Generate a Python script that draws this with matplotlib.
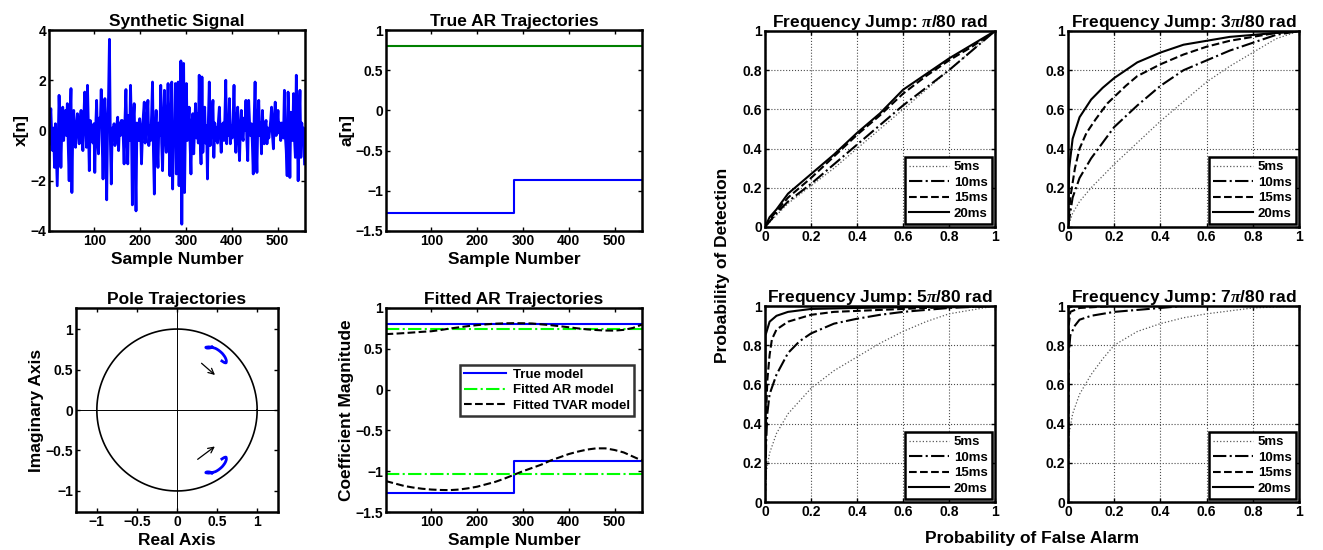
import numpy as np
import matplotlib
matplotlib.use("Agg")
import matplotlib.pyplot as plt

plt.rcParams['font.family'] = ['Liberation Sans', 'DejaVu Sans']
plt.rcParams['font.weight'] = 'bold'
plt.rcParams['axes.titleweight'] = 'bold'
plt.rcParams['axes.labelweight'] = 'bold'
plt.rcParams['mathtext.fontset'] = 'custom'
plt.rcParams['mathtext.it'] = 'Liberation Serif:italic'

# ---------------- data ----------------
signal_n = list(range(1, 560, 2))
signal_x = [
    -1.5, 0.3, 0.87, -0.2, -0.8, 0.1, -1.47, 0.27, -0.9, -2.2,
    -0.5, 1.4, 0.2, -1.47, 0.1, 0.93, -0.4, 0.3, 0.8, -0.2,
    1.07, -0.6, -2.0, 0.4, 1.67, -2.47, 0.0, 0.8, -0.3, -0.67,
    0.2, 0.67, -0.1, -0.53, 0.4, 0.8, -0.2, -0.8, 0.5, 1.53,
    0.3, -0.67, 1.8, 0.2, -1.6, 0.4, -0.3, 0.13, -0.5, 0.27,
    -1.67, 0.1, 1.2, -0.3, -0.93, 0.5, 0.2, 1.63, -0.4, -1.93,
    0.2, 1.27, -0.5, -2.76, 0.3, 1.33, 3.63, -0.4, -2.13, 0.1,
    -0.3, 0.27, -0.6, -0.4, 0.2, 0.53, -0.8, 0.3, -0.2, 0.4,
    0.4, -0.2, -1.33, 0.5, 1.63, -0.2, -1.33, 0.6, -0.4, 1.8,
    0.2, -2.96, 0.4, 1.07, -1.0, -3.2, 0.3, 0.0, -0.4, 0.47,
    0.1, -1.33, -0.2, 0.6, 1.13, -0.5, 0.0, 0.5, 1.2, -0.6,
    0.2, -0.4, 0.6, 1.93, -0.8, -2.53, 0.1, 0.8, -0.5, -1.47,
    0.3, -0.2, 1.8, -0.5, -1.6, 0.4, 1.6, -0.3, -0.87, 0.5,
    1.87, -0.4, -1.8, 0.5, 1.93, -2.33, 0.2, -0.6, 1.87, -1.73,
    0.3, 1.93, -2.2, 0.5, 2.77, -3.73, 0.6, 2.67, -2.47, 0.4,
    1.87, -0.4, 0.2, 0.93, -0.5, -1.73, 0.3, 0.67, -0.93, 0.2,
    1.07, -0.3, 0.67, -0.5, 2.2, -0.2, -1.33, 2.13, -0.87, 0.3,
    0.93, -0.5, 0.2, -1.93, 0.4, 1.93, -0.6, -0.13, 0.5, 1.2,
    -1.07, 0.3, -0.4, 0.13, -0.5, 0.4, 0.93, -0.2, -0.87, 0.0,
    0.3, -0.4, 0.5, 2.0, -0.53, 0.6, -0.2, 1.27, -0.53, 0.2,
    -0.3, 0.5, 1.8, -0.2, -0.87, 0.4, 0.93, -0.3, -1.2, 0.1,
    0.8, -0.2, -0.4, 0.5, 0.0, 1.2, -0.4, -1.2, 1.2, 0.3,
    -0.2, 0.27, -0.5, -1.73, 0.5, 1.93, -0.3, -1.67, 0.4, 1.2,
    -0.2, 0.3, -0.93, 0.8, -0.1, -0.53, 0.2, 0.4, -0.53, 0.1,
    -0.3, 0.0, 0.4, 0.93, -0.2, -0.73, 0.5, 1.13, -0.2, 0.13,
    0.8, -0.1, 0.3, -0.4, 0.3, 0.13, -0.3, 1.6, -0.2, -0.8,
    -1.8, 1.53, 0.2, -1.87, 0.73, 0.0, -0.4, 1.47, -0.3, -1.07,
    2.2, 0.3, -2.0, 0.2, 1.6, -1.07, 0.3, -0.4, 0.1, -1.33,
]

# true AR(2) coefficients (piecewise constant)
true_n = [1, 280, 280, 560]
true_a1 = [-1.27, -1.27, -0.87, -0.87]
true_a2 = [0.80, 0.80, 0.80, 0.80]

# fitted stationary AR coefficients
fit_ar_a1 = -1.03
fit_ar_a2 = 0.74

# fitted TVAR coefficients
tvar_n = list(range(0, 561, 20))
tvar_a1 = [-1.12, -1.15, -1.18, -1.20, -1.215, -1.225, -1.23, -1.232, -1.225, -1.21,
           -1.19, -1.16, -1.13, -1.09, -1.045, -1.0, -0.96, -0.92, -0.87, -0.83,
           -0.79, -0.76, -0.735, -0.72, -0.72, -0.74, -0.77, -0.82, -0.87]
tvar_a2 = [0.68, 0.685, 0.692, 0.70, 0.708, 0.715, 0.73, 0.748, 0.763, 0.778,
           0.79, 0.80, 0.808, 0.812, 0.814, 0.813, 0.81, 0.80, 0.79, 0.777,
           0.764, 0.75, 0.738, 0.73, 0.724, 0.723, 0.732, 0.755, 0.797]

# ROC curves: (Pfa, Pd) per window length
roc_titles = [r'Frequency Jump: $\pi$/80 rad', r'Frequency Jump: 3$\pi$/80 rad',
              r'Frequency Jump: 5$\pi$/80 rad', r'Frequency Jump: 7$\pi$/80 rad']
roc_labels = ['5ms', '10ms', '15ms', '20ms']
roc_data = [
    {  # pi/80
        '5ms':  ([0, 0.05, 0.1, 0.2, 0.3, 0.4, 0.5, 0.6, 0.7, 0.8, 0.9, 1.0],
                 [0, 0.06, 0.12, 0.21, 0.30, 0.40, 0.50, 0.60, 0.70, 0.80, 0.90, 1.0]),
        '10ms': ([0, 0.05, 0.1, 0.2, 0.3, 0.4, 0.5, 0.6, 0.7, 0.8, 0.9, 1.0],
                 [0, 0.07, 0.13, 0.22, 0.32, 0.42, 0.52, 0.62, 0.71, 0.80, 0.90, 1.0]),
        '15ms': ([0, 0.02, 0.05, 0.1, 0.2, 0.3, 0.4, 0.5, 0.6, 0.7, 0.8, 0.9, 1.0],
                 [0, 0.04, 0.08, 0.15, 0.25, 0.36, 0.47, 0.57, 0.68, 0.77, 0.85, 0.92, 1.0]),
        '20ms': ([0, 0.02, 0.05, 0.1, 0.2, 0.3, 0.4, 0.5, 0.6, 0.7, 0.8, 0.9, 1.0],
                 [0, 0.05, 0.09, 0.17, 0.27, 0.37, 0.48, 0.58, 0.70, 0.78, 0.86, 0.93, 1.0]),
    },
    {  # 3pi/80
        '5ms':  ([0, 0.02, 0.05, 0.1, 0.2, 0.3, 0.4, 0.5, 0.6, 0.7, 0.8, 0.9, 1.0],
                 [0, 0.07, 0.13, 0.20, 0.32, 0.43, 0.54, 0.64, 0.74, 0.82, 0.89, 0.96, 1.0]),
        '10ms': ([0, 0.02, 0.05, 0.1, 0.15, 0.2, 0.3, 0.4, 0.5, 0.6, 0.7, 0.8, 0.9, 1.0],
                 [0, 0.15, 0.25, 0.35, 0.43, 0.51, 0.62, 0.72, 0.80, 0.85, 0.90, 0.94, 0.98, 1.0]),
        '15ms': ([0, 0.01, 0.03, 0.05, 0.08, 0.12, 0.17, 0.25, 0.3, 0.4, 0.5, 0.6, 0.7, 0.8, 0.9, 1.0],
                 [0, 0.15, 0.30, 0.40, 0.48, 0.55, 0.63, 0.72, 0.77, 0.83, 0.88, 0.92, 0.95, 0.97, 0.99, 1.0]),
        '20ms': ([0, 0.005, 0.02, 0.05, 0.1, 0.15, 0.2, 0.3, 0.4, 0.5, 0.6, 0.7, 0.8, 0.9, 1.0],
                 [0, 0.30, 0.45, 0.56, 0.65, 0.71, 0.76, 0.84, 0.89, 0.93, 0.95, 0.97, 0.98, 0.99, 1.0]),
    },
    {  # 5pi/80
        '5ms':  ([0, 0.005, 0.02, 0.05, 0.1, 0.2, 0.3, 0.4, 0.5, 0.6, 0.7, 0.8, 0.9, 1.0],
                 [0, 0.15, 0.25, 0.35, 0.45, 0.58, 0.67, 0.74, 0.81, 0.87, 0.92, 0.96, 0.98, 1.0]),
        '10ms': ([0, 0.005, 0.01, 0.02, 0.05, 0.1, 0.15, 0.2, 0.3, 0.4, 0.5, 0.6, 0.7, 0.8, 1.0],
                 [0, 0.30, 0.45, 0.55, 0.65, 0.76, 0.82, 0.86, 0.91, 0.935, 0.955, 0.97, 0.98, 0.99, 1.0]),
        '15ms': ([0, 0.005, 0.01, 0.02, 0.03, 0.05, 0.1, 0.2, 0.3, 0.5, 0.7, 1.0],
                 [0, 0.45, 0.62, 0.75, 0.83, 0.88, 0.92, 0.955, 0.97, 0.98, 0.99, 1.0]),
        '20ms': ([0, 0.002, 0.02, 0.05, 0.1, 0.2, 0.4, 1.0],
                 [0, 0.85, 0.92, 0.95, 0.97, 0.985, 0.99, 1.0]),
    },
    {  # 7pi/80
        '5ms':  ([0, 0.005, 0.02, 0.05, 0.1, 0.15, 0.2, 0.3, 0.4, 0.5, 0.6, 0.7, 0.8, 1.0],
                 [0, 0.35, 0.45, 0.55, 0.65, 0.73, 0.80, 0.87, 0.91, 0.94, 0.96, 0.975, 0.99, 1.0]),
        '10ms': ([0, 0.003, 0.01, 0.03, 0.05, 0.1, 0.2, 0.3, 0.4, 0.5, 1.0],
                 [0, 0.75, 0.85, 0.90, 0.93, 0.95, 0.97, 0.98, 0.99, 1.0, 1.0]),
        '15ms': ([0, 0.003, 0.01, 0.05, 0.2, 1.0],
                 [0, 0.90, 0.97, 0.99, 1.0, 1.0]),
        '20ms': ([0, 0.002, 0.02, 1.0],
                 [0, 0.99, 1.0, 1.0]),
    },
]
roc_styles = {'5ms': dict(ls=':', lw=0.9, color='0.35'),
              '10ms': dict(ls='-.', lw=1.5, color='black'),
              '15ms': dict(ls='--', lw=1.5, color='black'),
              '20ms': dict(ls='-', lw=1.5, color='black')}

# ---------------- figure ----------------
W, H = 1323, 550
fig = plt.figure(figsize=(W / 100, H / 100), dpi=100)


def add_ax(l, r, t, b):
    return fig.add_axes([l / W, 1 - b / H, (r - l) / W, (b - t) / H])


TICK = 10


def style(ax):
    for s in ax.spines.values():
        s.set_linewidth(1.8)
    ax.tick_params(direction='in', top=True, right=True, length=3, width=1.0,
                   labelsize=TICK, pad=2)
    for lab in ax.get_xticklabels() + ax.get_yticklabels():
        lab.set_fontweight('bold')


TS = 12.5
LS = 12.5
XLP = 3

# 1) synthetic signal
ax1 = add_ax(49, 305, 30, 231)
ax1.plot(signal_n, signal_x, color='blue', lw=2.0)
ax1.set_xlim(1, 560)
ax1.set_ylim(-4, 4)
ax1.set_xticks([100, 200, 300, 400, 500])
ax1.set_yticks([-4, -2, 0, 2, 4])
ax1.set_yticklabels(['\u22124', '\u22122', '0', '2', '4'])
ax1.set_title('Synthetic Signal', fontsize=TS, pad=3)
ax1.set_xlabel('Sample Number', fontsize=LS, labelpad=XLP)
ax1.set_ylabel('x[n]', fontsize=LS, labelpad=1)
style(ax1)

# 2) true AR trajectories
ax2 = add_ax(386, 642, 30, 231)
ax2.plot(true_n, true_a2, color=(0, 0.5, 0), lw=1.5)
ax2.plot(true_n, true_a1, color='blue', lw=1.5)
ax2.set_xlim(1, 560)
ax2.set_ylim(-1.5, 1)
ax2.set_xticks([100, 200, 300, 400, 500])
ax2.set_yticks([-1.5, -1, -0.5, 0, 0.5, 1])
ax2.set_yticklabels(['\u22121.5', '\u22121', '\u22120.5', '0', '0.5', '1'])
ax2.set_title('True AR Trajectories', fontsize=TS, pad=3)
ax2.set_xlabel('Sample Number', fontsize=LS, labelpad=XLP)
ax2.set_ylabel('a[n]', fontsize=LS, labelpad=1)
style(ax2)

# 3) pole trajectories
ax3 = add_ax(76, 278, 308, 512)
theta = np.linspace(0, 2 * np.pi, 400)
ax3.plot(np.cos(theta), np.sin(theta), color='black', lw=1.2)
ax3.axhline(0, color='black', lw=0.7)
ax3.axvline(0, color='black', lw=0.7)
poles = np.array([np.roots([1.0, a1, a2]) for a1, a2 in zip(tvar_a1, tvar_a2)])
up = np.where(poles.imag > 0, poles, np.conj(poles))[:, 0]
ax3.plot(up.real, up.imag, color='blue', lw=2.0)
ax3.plot(up.real, -up.imag, color='blue', lw=2.0)
ax3.annotate('', xy=(0.5, 0.41), xytext=(0.28, 0.6),
             arrowprops=dict(arrowstyle='->', color='black', lw=0.9))
ax3.annotate('', xy=(0.5, -0.43), xytext=(0.23, -0.63),
             arrowprops=dict(arrowstyle='->', color='black', lw=0.9))
ax3.set_xlim(-1.26, 1.26)
ax3.set_ylim(-1.26, 1.26)
ax3.set_xticks([-1, -0.5, 0, 0.5, 1])
ax3.set_yticks([-1, -0.5, 0, 0.5, 1])
ax3.set_xticklabels(['\u22121', '\u22120.5', '0', '0.5', '1'])
ax3.set_yticklabels(['\u22121', '\u22120.5', '0', '0.5', '1'])
ax3.set_title('Pole Trajectories', fontsize=TS, pad=3)
ax3.set_xlabel('Real Axis', fontsize=LS, labelpad=XLP)
ax3.set_ylabel('Imaginary Axis', fontsize=LS, labelpad=1)
style(ax3)

# 4) fitted AR trajectories
ax4 = add_ax(386, 642, 308, 512)
h1, = ax4.plot(true_n, true_a2, color='blue', lw=1.5, label='True model')
ax4.plot(true_n, true_a1, color='blue', lw=1.5)
h2 = ax4.axhline(fit_ar_a2, color=(0, 1, 0), ls='-.', lw=1.5, label='Fitted AR model')
ax4.axhline(fit_ar_a1, color=(0, 1, 0), ls='-.', lw=1.5)
h3, = ax4.plot(tvar_n, tvar_a2, color='black', ls='--', lw=1.5, label='Fitted TVAR model')
ax4.plot(tvar_n, tvar_a1, color='black', ls='--', lw=1.5)
ax4.set_xlim(1, 560)
ax4.set_ylim(-1.5, 1)
ax4.set_xticks([100, 200, 300, 400, 500])
ax4.set_yticks([-1.5, -1, -0.5, 0, 0.5, 1])
ax4.set_yticklabels(['\u22121.5', '\u22121', '\u22120.5', '0', '0.5', '1'])
ax4.set_title('Fitted AR Trajectories', fontsize=TS, pad=3)
ax4.set_xlabel('Sample Number', fontsize=LS, labelpad=XLP)
ax4.set_ylabel('Coefficient Magnitude', fontsize=LS, labelpad=1)
leg = ax4.legend(handles=[h1, h2, h3], loc='upper right',
                 bbox_to_anchor=(0.995, 0.755), fontsize=9.5, frameon=True,
                 fancybox=False, edgecolor='black', handlelength=3.2,
                 borderpad=0.3, labelspacing=0.25, handletextpad=0.5)
leg.get_frame().set_linewidth(1.8)
for t in leg.get_texts():
    t.set_fontweight('bold')
style(ax4)

# ROC panels
roc_boxes = [(765, 995, 31, 227), (1068, 1299, 31, 227),
             (765, 995, 306, 502), (1068, 1299, 306, 502)]
ticks = [0, 0.2, 0.4, 0.6, 0.8, 1.0]
tlabels = ['0', '0.2', '0.4', '0.6', '0.8', '1']
for box, title, data in zip(roc_boxes, roc_titles, roc_data):
    ax = add_ax(*box)
    for lab in roc_labels:
        x, y = data[lab]
        ax.plot(x, y, label=lab, **roc_styles[lab])
    ax.set_xlim(0, 1)
    ax.set_ylim(0, 1)
    ax.set_xticks(ticks)
    ax.set_yticks(ticks)
    ax.set_xticklabels(tlabels)
    ax.set_yticklabels(tlabels)
    ax.grid(True, ls=':', color='0.3', lw=0.8)
    ax.set_title(title, fontsize=TS, pad=3)
    lg = ax.legend(loc='lower right', fontsize=9.5, frameon=True, fancybox=False,
                   edgecolor='black', framealpha=1, handlelength=3.0,
                   borderpad=0.3, labelspacing=0.25, handletextpad=0.4,
                   borderaxespad=0.25)
    lg.get_frame().set_linewidth(1.8)
    for t in lg.get_texts():
        t.set_fontweight('bold')
    style(ax)

fig.text(722 / W, 1 - 265 / H, 'Probability of Detection', rotation=90,
         ha='center', va='center', fontsize=LS, fontweight='bold')
fig.text(1032 / W, 1 - 538 / H, 'Probability of False Alarm',
         ha='center', va='center', fontsize=LS, fontweight='bold')

fig.savefig('out.png', dpi=100)
